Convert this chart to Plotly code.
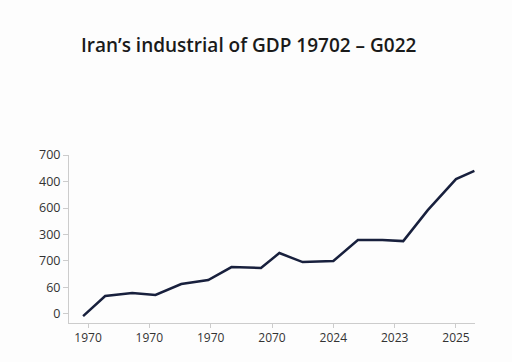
import plotly.graph_objects as go

title_text = "Iran’s industrial of GDP 19702 – G022"

years = [1969.6, 1971.4, 1973.6, 1975.5, 1977.6, 1979.8, 1981.7, 1984.1,
         1985.6, 1987.5, 1990.0, 1992.0, 1994.0, 1995.7, 1997.7, 2000.0, 2001.5]
values = [-8, 68, 79, 72, 113, 128, 177, 174, 230, 196, 200, 279, 279, 275,
          392, 509, 540]

x_tickvals = [1970, 1975, 1980, 1985, 1990, 1995, 2000]
x_ticktext = ["1970", "1970", "1970", "2070", "2024", "2023", "2025"]
y_tickvals = [0, 100, 200, 300, 400, 500, 600]
y_ticktext = ["0", "60", "700", "300", "600", "400", "700"]

fig = go.Figure()
fig.add_trace(go.Scatter(
    x=years, y=values, mode="lines",
    line=dict(color="#18203d", width=2.5),
    showlegend=False, hoverinfo="skip",
))

fig.update_layout(
    width=512, height=362,
    margin=dict(l=69, r=37, t=155, b=39),
    paper_bgcolor="#fdfdfd", plot_bgcolor="#fdfdfd",
    font=dict(family="Open Sans", color="#333333", size=12),
    title=dict(text=title_text, x=0.158, xanchor="left", y=0.875, yanchor="middle",
               font=dict(family="Open Sans", size=19, color="#1a1a1a", weight=600)),
)
fig.update_xaxes(
    range=[1968.45, 2001.55], tickvals=x_tickvals, ticktext=x_ticktext,
    showgrid=False, zeroline=False, showline=True, linecolor="#cccccc", linewidth=1,
    ticks="outside", ticklen=4, tickcolor="#cccccc",
    tickfont=dict(size=12, color="#333333"),
)
fig.update_yaxes(
    range=[-34, 600], tickvals=y_tickvals, ticktext=y_ticktext,
    showgrid=False, zeroline=False, showline=True, linecolor="#cccccc", linewidth=1,
    ticks="outside", ticklen=5, tickcolor="#cccccc",
    tickfont=dict(size=12.5, color="#333333"),
)

fig.write_html(
    "out.html",
    config={"displayModeBar": False, "staticPlot": True},
    post_script="document.body.style.margin='0';document.body.style.background='#fdfdfd';",
)
